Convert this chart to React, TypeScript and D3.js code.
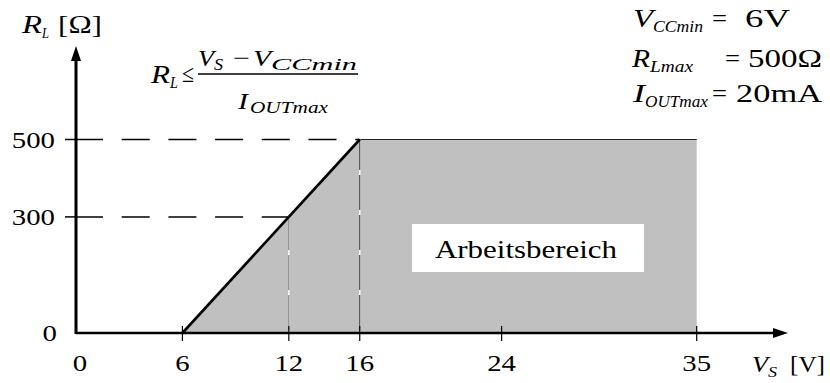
import React from "react";
import * as d3 from "d3";

// ---- data ----
const VS_TICKS = [6, 12, 16, 24, 35];
const VS_LABELS = [0, 6, 12, 16, 24, 35];
const RL_TICKS = [300, 500];
const RL_LABELS = [0, 300, 500];
const BOUNDARY_VS = [6, 16, 35, 35];
const BOUNDARY_RL = [0, 500, 500, 0];
const GUIDE_VS = [12, 16];
const GUIDE_RL = [300, 500];
const VCC_MIN = 6;
const RL_MAX = 500;
const IOUT_MAX_MA = 20;
const REGION_LABEL = "Arbeitsbereich";

const W = 830;
const H = 383;
const FONT = "Liberation Serif";

const x = d3.scaleLinear().domain([0, 35]).range([76, 696.7]);
const y = d3.scaleLinear().domain([0, 500]).range([333, 139.5]);

function Tx(props: {
  x: number;
  y: number;
  w?: number;
  size: number;
  italic?: boolean;
  anchor?: string;
  children: React.ReactNode;
}) {
  const { w, size, italic, anchor, children } = props;
  return (
    <text
      x={props.x}
      y={props.y}
      style={{
        fontFamily: FONT,
        fontSize: size + "px",
        fontStyle: italic ? "italic" : "normal",
        fontWeight: 400,
      }}
      textAnchor={anchor || "start"}
      textLength={w}
      lengthAdjust={w ? "spacingAndGlyphs" : undefined}
      fill="#000"
    >
      {children}
    </text>
  );
}

export default function App() {
  const pts = BOUNDARY_VS.map((v, i) => [x(v), y(BOUNDARY_RL[i])] as [number, number]);
  const area = d3.line()(pts.concat([pts[0]])) || "";
  const edge = d3.line()(pts.slice(0, 2)) || "";
  const top = d3.line()(pts.slice(1, 3)) || "";
  const x0 = x(0);
  const y0 = y(0);
  const dashStart = y(500);

  return (
    <svg
      width={W}
      height={H}
      style={{ position: "absolute", left: 0, top: 0, background: "#fff" }}
    >
      <rect x={0} y={0} width={W} height={H} fill="#fff" />
      {/* working region */}
      <path d={area} fill="#c0c0c0" stroke="none" />
      <path d={top} fill="none" stroke="#222" strokeWidth={1} />
      {/* vertical guides */}
      {GUIDE_VS.map((v, i) => {
        const yt = y(GUIDE_RL[i]);
        return (
          <g key={"gv" + v}>
            <line x1={x(v)} x2={x(v)} y1={yt} y2={y0} stroke="#fff" strokeWidth={1.5} />
            <line
              x1={x(v)}
              x2={x(v)}
              y1={yt}
              y2={y0}
              stroke={i === 0 ? "#6a6a6a" : "#2a2a2a"}
              strokeWidth={1}
              strokeDasharray="35,5"
              strokeDashoffset={yt - dashStart + 4.5}
            />
          </g>
        );
      })}
      {/* horizontal dashed guides */}
      {GUIDE_RL.map((r, i) => (
        <line
          key={"gh" + r}
          x1={75}
          x2={x(GUIDE_VS[i])}
          y1={y(r)}
          y2={y(r)}
          stroke="#000"
          strokeWidth={1.5}
          strokeDasharray="28,18.7"
        />
      ))}
      <path d={edge} fill="none" stroke="#000" strokeWidth={2.6} />
      {/* label box */}
      <rect x={412} y={224} width={232} height={48} fill="#fff" />
      <Tx x={435} y={258} w={182} size={26}>{REGION_LABEL}</Tx>

      {/* axes */}
      <line x1={x0} x2={x0} y1={y0 + 1} y2={60} stroke="#000" strokeWidth={3} />
      <polygon points={`${x0},46 ${x0 - 5},61 ${x0 + 5},61`} fill="#000" />
      <line x1={x0} x2={775} y1={y0} y2={y0} stroke="#000" strokeWidth={2.5} />
      <polygon points={`788,${y0} 773,${y0 - 5} 773,${y0 + 5}`} fill="#000" />
      {VS_TICKS.map((v) => (
        <line key={"xt" + v} x1={x(v)} x2={x(v)} y1={326} y2={341} stroke="#000" strokeWidth={1.2} />
      ))}
      {RL_TICKS.map((r) => (
        <line key={"yt" + r} x1={65} x2={x0} y1={y(r)} y2={y(r)} stroke="#000" strokeWidth={1.5} />
      ))}
      {VS_LABELS.map((v) => (
        <Tx
          key={"xl" + v}
          x={x(v) + (v === 0 ? 4 : 0)}
          y={371}
          w={String(v).length * 14.4}
          size={24}
          anchor="middle"
        >
          {String(v)}
        </Tx>
      ))}
      {RL_LABELS.map((r) => (
        <Tx
          key={"yl" + r}
          x={r === 0 ? 57 : 55}
          y={y(r) + 8}
          w={String(r).length * 14.4}
          size={24}
          anchor="end"
        >
          {String(r)}
        </Tx>
      ))}

      {/* axis titles */}
      <Tx x={22} y={33} w={20} size={26} italic>R</Tx>
      <Tx x={42} y={38} w={7} size={15} italic>L</Tx>
      <Tx x={58} y={33} w={44} size={26}>[Ω]</Tx>

      <Tx x={752} y={372} w={16} size={24} italic>V</Tx>
      <Tx x={768} y={377} w={9} size={15} italic>S</Tx>
      <Tx x={790} y={372} w={35} size={24}>[V]</Tx>

      {/* formula */}
      <Tx x={151} y={83} w={19} size={25} italic>R</Tx>
      <Tx x={170} y={88} w={8} size={16} italic>L</Tx>
      <Tx x={182} y={82} w={12} size={25}>≤</Tx>
      <Tx x={198} y={66} w={16} size={24} italic>V</Tx>
      <Tx x={214} y={70} w={9} size={17} italic>S</Tx>
      <Tx x={233} y={66} w={17} size={24}>−</Tx>
      <Tx x={253} y={66} w={18} size={24} italic>V</Tx>
      <Tx x={271} y={70} w={86} size={17} italic>CCmin</Tx>
      <line x1={198} x2={358} y1={74} y2={74} stroke="#000" strokeWidth={1.5} />
      <Tx x={238} y={109} w={10} size={24} italic>I</Tx>
      <Tx x={250} y={113} w={78} size={17} italic>OUTmax</Tx>

      {/* parameters */}
      <Tx x={633} y={27} w={20} size={25} italic>V</Tx>
      <Tx x={653} y={32} w={50} size={16} italic>CCmin</Tx>
      <Tx x={712} y={27} w={15} size={25}>=</Tx>
      <Tx x={745} y={27} w={45} size={25}>{`${VCC_MIN}V`}</Tx>
      <Tx x={632} y={67} w={18} size={25} italic>R</Tx>
      <Tx x={650} y={72} w={43} size={16} italic>Lmax</Tx>
      <Tx x={725} y={67} w={15} size={25}>=</Tx>
      <Tx x={748} y={67} w={74} size={25}>{`${RL_MAX}Ω`}</Tx>
      <Tx x={633} y={102} w={12} size={25} italic>I</Tx>
      <Tx x={645} y={107} w={63} size={16} italic>OUTmax</Tx>
      <Tx x={712} y={102} w={15} size={25}>=</Tx>
      <Tx x={736} y={102} w={86} size={25}>{`${IOUT_MAX_MA}mA`}</Tx>
    </svg>
  );
}
